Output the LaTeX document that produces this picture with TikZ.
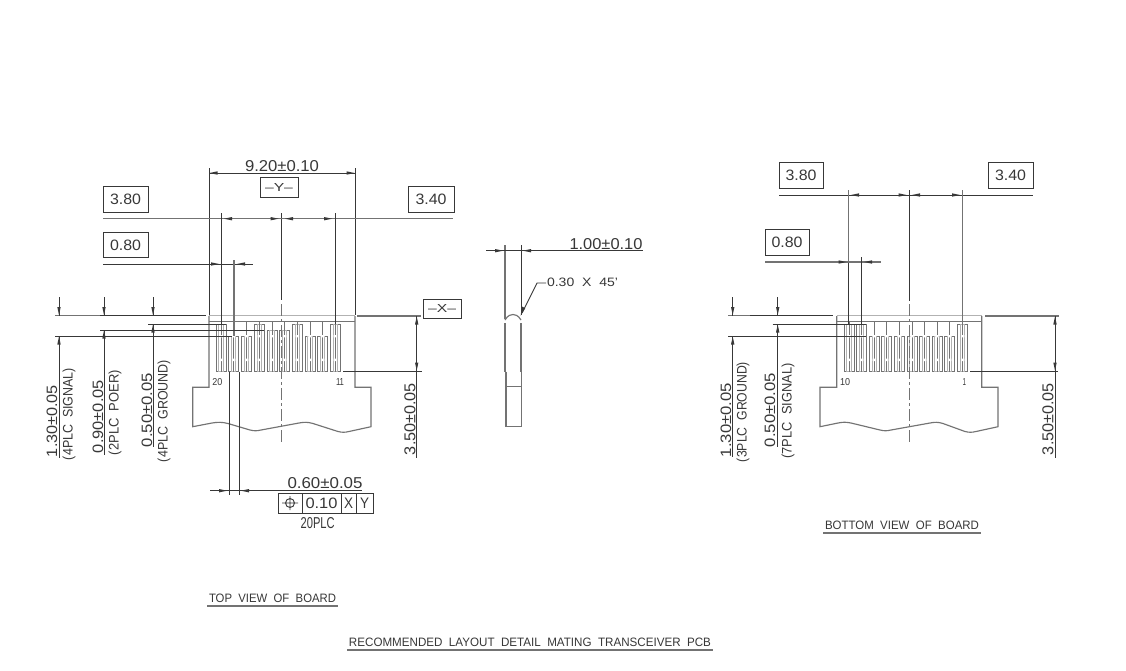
\documentclass[tikz,border=0pt]{standalone}
\usepackage{fontspec}
\usepackage{graphicx}
\setmainfont{Liberation Sans}
\definecolor{ink}{gray}{0.22}
\definecolor{soft}{gray}{0.45}
\definecolor{pale}{gray}{0.7}
\tikzset{
  ln/.style={draw=ink,line width=0.9pt},
  gl/.style={draw=soft,line width=1.15pt},
  pl/.style={draw=pale,line width=1.5pt},
  thin1/.style={draw=soft,line width=0.8pt},
  bx/.style={draw=ink,line width=0.9pt},
  lbl/.style={inner sep=0pt,outer sep=0pt,text=ink},
  cl/.style={draw=soft,line width=0.9pt,dash pattern=on 12pt off 3pt on 3pt off 3pt}
}
\newcommand{\fit}[3]{\resizebox{#1pt}{#2pt}{#3}}
\newcommand{\tipR}[2]{\fill[ink] (#1,#2)--(#1-8,#2-1.7)--(#1-8,#2+1.7)--cycle;}
\newcommand{\tipL}[2]{\fill[ink] (#1,#2)--(#1+8,#2-1.7)--(#1+8,#2+1.7)--cycle;}
\newcommand{\tipD}[2]{\fill[ink] (#1,#2)--(#1-1.7,#2-8)--(#1+1.7,#2-8)--cycle;}
\newcommand{\tipU}[2]{\fill[ink] (#1,#2)--(#1-1.7,#2+8)--(#1+1.7,#2+8)--cycle;}
\newcommand{\pad}[2]{%x, top
  \draw[thin1] (#1,321.7)--(#1,#2);
  \draw[draw=soft,line width=0.85pt] (#1-5,#2) rectangle (#1+5,371.7);
  \draw[draw=pale,line width=0.85pt] (#1-2.2,#2) rectangle (#1+2.2,371.7);
  \draw[draw=soft,line width=0.7pt] (#1,#2) -- (#1,371.7);
  \fill[white] (#1-1.6,335) rectangle (#1+1.6,337.4) (#1-1.6,358.5) rectangle (#1+1.6,361);
}
\begin{document}
\begin{tikzpicture}[x=1pt,y=-1pt]
\useasboundingbox (0,0) rectangle (1126,670);
\fill[white] (0,0) rectangle (1126,670);

% ---------- TOP VIEW ----------
\draw[pl] (209,315.7)--(355,315.7);
\draw[gl] (209,321.7)--(355,321.7);
\draw[gl] (209,316)--(209,387.3)--(192.7,387.3)--(192.7,426.7)
  --(212,423) .. controls (218,422) and (222,422) .. (228,423.5)
  --(250,430) .. controls (254,431) and (257,431) .. (261,430)
  --(299,423) .. controls (304,422) and (308,422) .. (313,423.5)
  --(338,431.5) .. controls (342,432.5) and (345,432.5) .. (349,431.5)
  --(371,426.7)--(371,387.3)--(355,387.3)--(355,316);
\foreach \x/\t in {221/324,233.7/336,246.7/336,259.3/324,272/330,284.7/330,297.3/324,310/336,322.7/336,335.3/324}{
  \pad{\x}{\t}
}
\draw[ln] (281.7,213)--(281.7,300);
\draw[cl] (281.7,304)--(281.7,443);

% 9.20
\draw[ln] (209,168)--(209,315) (355,168)--(355,315);
\draw[ln] (209,173)--(355,173);
\tipL{209.5}{173}\tipR{354.5}{173}
\node[lbl] (t920) at (282,166) {\fit{74}{11}{9.20±0.10}};
\draw[bx] (260,177) rectangle (298,197);
\node[lbl] (ty) at (279,187) {\fit{28}{8}{–Y–}};
% 3.80 / 3.40
\draw[gl] (103,218.7)--(453,218.7);
\draw[ln] (221,213)--(221,324) (335.3,213)--(335.3,324);
\tipL{224}{218.7}\tipR{278.5}{218.7}\tipL{285}{218.7}\tipR{332}{218.7}
\draw[bx] (103,186) rectangle (148,212);
\node[lbl] (t380) at (125.5,199) {\fit{31}{10.5}{3.80}};
\draw[bx] (408,186) rectangle (454,212);
\node[lbl] (t340) at (431,199) {\fit{31}{10.5}{3.40}};
% 0.80
\draw[ln] (103,264)--(253,264);
\draw[gl] (234,260)--(234,336);
\tipR{219}{264}\tipL{237}{264}
\draw[bx] (103,232) rectangle (148,257);
\node[lbl] (t080) at (125.5,245) {\fit{31}{10.5}{0.80}};
% left leader lines
\draw[gl] (55,315.7)--(100,315.7);
\draw[ln,line width=1.25pt] (100,315.7)--(206,315.7);
\draw[ln] (148,324)--(226,324);
\draw[ln] (100,330)--(264,330);
\draw[ln] (55,336)--(232,336);
% vertical dims
\draw[ln] (59,297)--(59,315.7) (59,336)--(59,458);
\tipD{59}{315}\tipU{59}{336.5}
\draw[ln] (104,297)--(104,315.7) (104,330)--(104,455);
\tipD{104}{315}\tipU{104}{330.5}
\draw[ln] (153,297)--(153,315.7) (153,324)--(153,447);
\tipD{153}{315}\tipU{153}{324.5}
\node[lbl,rotate=90] (a1) at (52,421) {\fit{72}{10.5}{1.30±0.05}};
\node[lbl,rotate=90] (a2) at (69,414) {\fit{92}{10}{(4PLC~~SIGNAL)}};
\node[lbl,rotate=90] (b1) at (98,416.5) {\fit{73}{10.5}{0.90±0.05}};
\node[lbl,rotate=90] (b2) at (115,412.5) {\fit{85}{10}{(2PLC~~POER)}};
\node[lbl,rotate=90] (c1) at (147,410) {\fit{74}{10.5}{0.50±0.05}};
\node[lbl,rotate=90] (c2) at (164,411) {\fit{102}{10}{(4PLC~~GROUND)}};
% 3.50 left view
\draw[gl] (357,316)--(421,316);
\draw[bx] (423,299) rectangle (461,318);
\node[lbl] (tx) at (442,308.5) {\fit{28}{8}{–X–}};
\draw[ln] (343,371)--(421.7,371);
\draw[ln] (416.7,316)--(416.7,458);
\tipU{416.7}{316.5}\tipD{416.7}{370.5}
\node[lbl,rotate=90] (d1) at (410,419) {\fit{72}{11}{3.50±0.05}};
\node[lbl] (n20) at (217.3,381.7) {\fit{10}{7}{20}};
\node[lbl] (n11) at (340,381.7) {\fit{8}{7}{11}};
% 0.60
\draw[ln] (229,372)--(229,495) (239.3,372)--(239.3,495);
\draw[ln] (210,490.7)--(362,490.7);
\tipR{227}{490.7}\tipL{241}{490.7}
\node[lbl] (t060) at (325,483) {\fit{75}{11}{0.60±0.05}};
\draw[bx] (278,493) rectangle (373,513);
\draw[bx] (302,493)--(302,513) (341,493)--(341,513) (356,493)--(356,513);
\draw[bx] (290,503) circle (4.5) (282,503)--(298,503) (290,496)--(290,510);
\node[lbl] (t010) at (321.5,503) {\fit{32}{10.5}{0.10}};
\node[lbl] (tX) at (348.5,503) {\fit{9}{10.5}{X}};
\node[lbl] (tY) at (364.5,503) {\fit{9}{10.5}{Y}};
\node[lbl] (t20p) at (317.7,523) {\fit{34}{11}{20PLC}};

% ---------- SIDE VIEW ----------
\draw[ln] (521,245)--(521,315) ;
\draw[gl] (505,245)--(505,319);
\draw[gl] (505,320) .. controls (508,315) and (511,314.5) .. (513,314.5) .. controls (515,314.5) and (518,315) .. (521,320);
\draw[gl] (505,323)--(505,371.7) (521,323)--(521,371.7);
\draw[gl] (506,371.7)--(506,426.7)--(521.7,426.7)--(521.7,371.7);
\draw[gl] (506,386.7)--(521.7,386.7);
\draw[ln] (486,250.7)--(643,250.7);
\tipR{503}{250.7}\tipL{523}{250.7}
\node[lbl] (t100) at (606,244) {\fit{73}{11}{1.00±0.10}};
\draw[ln] (546,283)--(537,283)--(522,313);
\fill[ink] (520.7,315.5)--(522,306.5)--(525.2,308.2)--cycle;
\node[lbl,anchor=west] (t030) at (547,282.5) {\fit{71}{8.5}{0.30~~X~~45'}};

% ---------- BOTTOM VIEW ----------
\draw[pl] (836.7,315.7)--(981.7,315.7);
\draw[gl] (836.7,321.7)--(981.7,321.7);
\draw[gl] (836.7,316)--(836.7,387.3)--(820,387.3)--(820,426.7)
  --(838,423) .. controls (843,422) and (846,422) .. (851,423)
  --(880,430) .. controls (884,431) and (887,431) .. (891,430)
  --(930,423) .. controls (935,422) and (938,422) .. (943,423.5)
  --(965,431.5) .. controls (969,432.5) and (972,432.5) .. (976,431.5)
  --(998,426.7)--(998,387.3)--(981.7,387.3)--(981.7,316);
\foreach \x/\t in {849/324,861.7/324,874.3/336,886.7/336,899.3/336,912/336,924.7/336,937/336,949.7/336,962.7/324}{
  \pad{\x}{\t}
}
\draw[ln,line width=1.25pt] (909.3,190)--(909.3,300.7);
\draw[cl] (909.3,304)--(909.3,443);
% dims
\draw[ln] (779,195)--(1033,195);
\draw[gl] (848.7,190)--(848.7,324) (962.7,190)--(962.7,324);
\draw[ln,line width=1.25pt] (848.7,262)--(848.7,324);
\tipL{851}{195}\tipR{906.5}{195}\tipL{912}{195}\tipR{960}{195}
\draw[bx] (779,162) rectangle (823,188);
\node[lbl] (r380) at (801,175) {\fit{31}{10.5}{3.80}};
\draw[bx] (988,162) rectangle (1033,188);
\node[lbl] (r340) at (1010.5,175) {\fit{31}{10.5}{3.40}};
\draw[gl] (765,262)--(881,262);
\draw[ln] (861.7,257)--(861.7,324);
\tipR{846.5}{262}\tipL{864}{262}
\draw[bx] (765,229) rectangle (809,255);
\node[lbl] (r080) at (787,242) {\fit{31}{10.5}{0.80}};
% leaders
\draw[gl] (728,315.7)--(750,315.7);
\draw[ln,line width=1.25pt] (750,315.7)--(833,315.7);
\draw[ln] (772.7,324)--(866,324);
\draw[ln] (728,336)--(866,336);
\draw[ln] (732.7,297)--(732.7,315.7) (732.7,336)--(732.7,457);
\tipD{732.7}{315}\tipU{732.7}{336.5}
\draw[ln] (777.7,297)--(777.7,315.7) (777.7,324)--(777.7,447);
\tipD{777.7}{315}\tipU{777.7}{324.5}
\node[lbl,rotate=90] (e1) at (726,420) {\fit{74}{10.5}{1.30±0.05}};
\node[lbl,rotate=90] (e2) at (743,412) {\fit{100}{10}{(3PLC~~GROUND)}};
\node[lbl,rotate=90] (f1) at (770,410) {\fit{74}{10.5}{0.50±0.05}};
\node[lbl,rotate=90] (f2) at (788,411) {\fit{95}{10}{(7PLC~~SIGNAL)}};
% 3.50 right
\draw[gl] (985,316)--(1059,316);
\draw[ln] (970,371)--(1058,371);
\draw[ln] (1055,316)--(1055,458);
\tipU{1055}{316.5}\tipD{1055}{370.5}
\node[lbl,rotate=90] (g1) at (1048,419) {\fit{72}{11}{3.50±0.05}};
\node[lbl] (n10) at (845,381.7) {\fit{10}{7}{10}};
\node[lbl] (n1) at (964.3,381.7) {\fit{3.5}{7}{1}};

% ---------- TITLES ----------
\node[lbl] (ttop) at (272.5,598.5) {\fit{127}{8.5}{TOP~~VIEW~~OF~~BOARD}};
\draw[gl] (207,606)--(338,606);
\node[lbl] (tbot) at (902,525.5) {\fit{154}{8.5}{BOTTOM~~VIEW~~OF~~BOARD}};
\draw[gl] (823,533)--(981,533);
\node[lbl] (trec) at (530,642.5) {\fit{362}{8.5}{RECOMMENDED~~LAYOUT~~DETAIL~~MATING~~TRANSCEIVER~~PCB}};
\draw[gl] (347,650)--(713,650);
\end{tikzpicture}
\end{document}
